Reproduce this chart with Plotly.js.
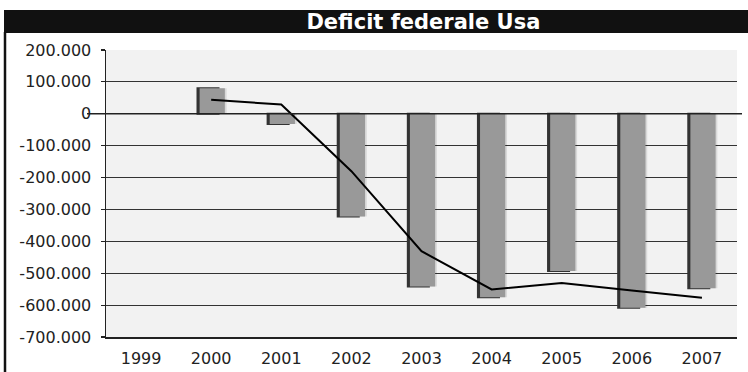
<!DOCTYPE html>
<html>
<head>
<meta charset="utf-8">
<script src="https://cdn.plot.ly/plotly-3.0.1.min.js"></script>
<style>html,body{margin:0;padding:0;background:#fff;}#chart{width:748px;height:372px;}</style>
</head>
<body>
<div id="chart"></div>
<script>
var years = ['1999','2000','2001','2002','2003','2004','2005','2006','2007'];
var deficitBars = [null, 80000, -32000, -322000, -542000, -575000, -493000, -608000, -547000];
var deficitLine = [null, 44000, 29000, -180000, -431000, -551000, -531000, -554000, -577000];
var yTickVals = [200000, 100000, 0, -100000, -200000, -300000, -400000, -500000, -600000, -700000];
var yTickText = ['200.000', '100.000', '0', '-100.000', '-200.000', '-300.000', '-400.000', '-500.000', '-600.000', '-700.000'];

var shadow = {
  type: 'bar', x: years, y: deficitBars,
  offset: -0.10, width: 0.32,
  marker: {color: 'rgba(0,0,0,0.10)', line: {width: 0}},
  hoverinfo: 'skip', showlegend: false
};
var dark = {
  type: 'bar', x: years, y: deficitBars,
  offset: -0.195, width: 0.30,
  marker: {color: '#333333', line: {width: 2, color: '#333333'}},
  hoverinfo: 'skip', showlegend: false
};
var gray = {
  type: 'bar', x: years, y: deficitBars,
  offset: -0.165, width: 0.36,
  marker: {color: '#999999', line: {width: 0}},
  showlegend: false
};
var line = {
  type: 'scatter', mode: 'lines', x: years, y: deficitLine,
  line: {color: '#000000', width: 2},
  showlegend: false
};

var layout = {
  width: 748, height: 372,
  margin: {l: 106, r: 11, t: 50, b: 35},
  paper_bgcolor: '#ffffff',
  plot_bgcolor: '#f2f2f2',
  barmode: 'overlay',
  font: {family: 'DejaVu Sans', size: 16, color: '#222222'},
  title: {
    text: 'Deficit federale Usa',
    font: {family: 'DejaVu Sans', size: 21, color: '#ffffff', weight: 'bold'},
    x: 0.503, xanchor: 'center', xref: 'paper',
    y: 1 - 21.5/372, yanchor: 'middle', yref: 'container'
  },
  xaxis: {
    type: 'category', categoryorder: 'array', categoryarray: years,
    range: [-0.5, 8.5],
    showgrid: false, zeroline: false,
    showline: true, linecolor: '#222222', linewidth: 1.5,
    ticks: '', ticklabelstandoff: 6,
    tickfont: {family: 'DejaVu Sans', size: 16, color: '#222222'},
    fixedrange: true
  },
  yaxis: {
    range: [-700000, 200000],
    tickvals: yTickVals, ticktext: yTickText,
    showgrid: true, gridcolor: '#333333', gridwidth: 1.2,
    zeroline: false,
    showline: true, linecolor: '#222222', linewidth: 1.5,
    ticks: 'outside', ticklen: 4, tickcolor: '#222222', tickwidth: 1.2,
    ticklabelstandoff: 6,
    tickfont: {family: 'DejaVu Sans', size: 16, color: '#222222'},
    fixedrange: true
  },
  shapes: [
    {type: 'rect', xref: 'paper', yref: 'paper',
     x0: (4-106)/631, x1: 1.03, y0: (337-33)/287, y1: (337-10)/287,
     fillcolor: '#111111', line: {width: 0}, layer: 'below'},
    {type: 'line', xref: 'paper', yref: 'paper',
     x0: (5-106)/631, x1: (5-106)/631, y0: (337-32)/287, y1: -0.14,
     line: {color: '#111111', width: 2.5}},
    {type: 'line', xref: 'paper', yref: 'y',
     x0: (87-106)/631, x1: (742-106)/631, y0: 0, y1: 0,
     line: {color: '#222222', width: 1.5}, layer: 'above'}
  ]
};

Plotly.newPlot('chart', [shadow, dark, gray, line], layout, {displayModeBar: false, staticPlot: true});
</script>
</body>
</html>
